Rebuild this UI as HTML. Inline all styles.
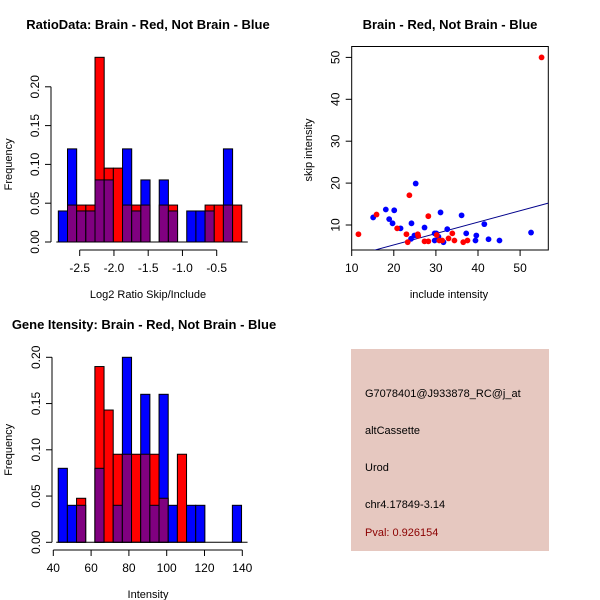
<!DOCTYPE html>
<html><head><meta charset="utf-8"><style>
body{margin:0;background:#fff}
svg{display:block;font-family:"Liberation Sans",Arial,sans-serif}
</style></head><body>
<svg id="s" width="600" height="600" viewBox="0 0 600 600">
<rect width="600" height="600" fill="#fff"/>
<text x="148" y="29" text-anchor="middle" font-weight="bold" font-size="13">RatioData: Brain - Red, Not Brain - Blue</text>
<text x="450" y="29" text-anchor="middle" font-weight="bold" font-size="13">Brain - Red, Not Brain - Blue</text>
<text x="144" y="329" text-anchor="middle" font-weight="bold" font-size="13">Gene Itensity: Brain - Red, Not Brain - Blue</text>
<g id="h1"></g>
<g id="h2"></g>
<g id="sc"></g>
<g>
<rect x="351" y="349" width="198" height="202" fill="#e6c8c0"/>
<g font-size="11">
<text x="365" y="397">G7078401@J933878_RC@j_at</text>
<text x="365" y="434">altCassette</text>
<text x="365" y="471">Urod</text>
<text x="365" y="508">chr4.17849-3.14</text>
<text x="365" y="536" fill="#8b0000">Pval: 0.926154</text>
</g></g>
</svg>
<script>
// Ratio histogram data
const ratioStart = -2.812, ratioWidth = 0.1339;
const ratioBlue = [0.04,0.12,0.04,0.04,0.08,0.08,0,0.12,0.04,0.08,0,0.08,0.04,0,0.04,0.04,0.04,0,0.12,0];
const ratioRed = [0,0.0476,0.0476,0.0476,0.238,0.0952,0.0952,0.0476,0.0476,0.0476,0,0.0476,0.0476,0,0,0,0.0476,0.0476,0.0476,0.0476];
const ratioXTicks = [-2.5,-2.0,-1.5,-1.0,-0.5];
const ratioXLabels = ["-2.5","-2.0","-1.5","-1.0","-0.5"];
const ratioYTicks = [0,0.05,0.10,0.15,0.20];
const ratioYLabels = ["0.00","0.05","0.10","0.15","0.20"];
// Intensity histogram data
const intStart = 42.6, intWidth = 4.85;
const intBlue = [0.08,0.04,0.04,0,0.08,0,0.04,0.2,0,0.16,0.04,0.16,0.04,0,0.04,0.04,0,0,0,0.04];
const intRed = [0,0,0.0476,0,0.19,0.143,0.0952,0.0952,0.0952,0.0952,0.0952,0.0476,0,0.0952,0,0,0,0,0,0];
const intXTicks = [40,60,80,100,120,140];
const intXLabels = ["40","60","80","100","120","140"];
const intYTicks = [0,0.05,0.10,0.15,0.20];
const intYLabels = ["0.00","0.05","0.10","0.15","0.20"];
// Scatter data
const blueX = [15.1,18.1,20.1,18.9,19.7,21.6,24.2,25.2,24.1,24.9,27.3,29.7,30.1,30.6,29.7,31.1,31.8,32.7,36.1,37.2,39.6,39.4,41.5,42.5,45.1,52.6];
const blueY = [11.8,13.7,13.5,11.4,10.4,9.2,10.4,19.9,6.7,7.5,9.4,8.0,8.0,7.2,6.3,13.0,5.9,9.0,12.3,8.0,7.5,6.3,10.2,6.6,6.3,8.2];
const redX = [11.6,15.9,20.8,23.0,23.3,23.7,25.7,25.8,27.3,28.2,28.2,30.2,30.8,31.5,33.0,33.9,34.4,36.5,37.5,55.1];
const redY = [7.8,12.5,9.2,7.8,5.9,17.1,7.8,7.4,6.1,12.1,6.1,7.6,6.3,6.3,6.8,8.0,6.3,5.9,6.3,50.0];
const fitLine = [-0.2, 0.272];
const scXTicks = [10,20,30,40,50];
const scYTicks = [10,20,30,40,50];

const NS="http://www.w3.org/2000/svg";
function mk(parent,tag,attrs){const e=document.createElementNS(NS,tag);for(const k in attrs)e.setAttribute(k,attrs[k]);parent.appendChild(e);return e;}

function hist(g,o){
  const X=v=>o.x0+(v-o.dx0)*o.kx, Y=v=>o.y0-v*o.ky;
  for(let i=0;i<o.blue.length;i++){
    const b=o.blue[i], r=o.red[i], lo=o.start+i*o.w, hi=lo+o.w;
    const hmax=Math.max(b,r), hmin=Math.min(b,r);
    if(hmax>0){
      const rc=mk(g,'rect',{x:X(lo),y:Y(hmax),width:X(hi)-X(lo),height:Y(0)-Y(hmax),fill:b>r?'#0000ff':'#ff0000',stroke:'#000','stroke-width':1});
      
      
    }
    if(hmin>0){
      const pc=mk(g,'rect',{x:X(lo),y:Y(hmin),width:X(hi)-X(lo),height:Y(0)-Y(hmin),fill:'#800080',stroke:'#000','stroke-width':1});
      
      
    }
  }
  const ya=mk(g,'g',{});
  
  
  mk(ya,'line',{x1:o.yax,x2:o.yax,y1:Y(o.yt[0]),y2:Y(o.yt[o.yt.length-1]),stroke:'#000'});
  o.yt.forEach((t,i)=>{
    mk(ya,'line',{x1:o.yax-6,x2:o.yax,y1:Y(t),y2:Y(t),stroke:'#000'});
    const tx=mk(ya,'text',{x:o.yax-12,y:Y(t),'font-size':12,'text-anchor':'middle',transform:`rotate(-90 ${o.yax-12} ${Y(t)})`});
    tx.textContent=o.yl[i];
  });
  const yt=mk(g,'text',{x:12,y:(Y(o.yt[0])+Y(o.yt[o.yt.length-1]))/2,'font-size':11,'text-anchor':'middle',transform:`rotate(-90 12 ${(Y(o.yt[0])+Y(o.yt[o.yt.length-1]))/2})`});
  yt.textContent='Frequency';
  
  
  const xa=mk(g,'g',{});
  
  
  mk(xa,'line',{x1:X(o.xt[0]),x2:X(o.xt[o.xt.length-1]),y1:o.xay,y2:o.xay,stroke:'#000'});
  o.xt.forEach((t,i)=>{
    mk(xa,'line',{x1:X(t),x2:X(t),y1:o.xay,y2:o.xay+6,stroke:'#000'});
    const tx=mk(xa,'text',{x:X(t),y:o.xay+22,'font-size':12,'text-anchor':'middle'});
    tx.textContent=o.xl[i];
  });
  const xt=mk(g,'text',{x:o.xtx,y:o.xay+48,'font-size':11,'text-anchor':'middle'});
  xt.textContent=o.xtitle;
  
  
  mk(g,'line',{x1:X(o.start)-2,x2:X(o.start+o.blue.length*o.w)+6,y1:Y(0),y2:Y(0),stroke:'#000'});
}

hist(document.getElementById('h1'),{blue:ratioBlue,red:ratioRed,start:ratioStart,w:ratioWidth,x0:79.7,dx0:-2.5,kx:68.5,y0:242,ky:776,yax:51,xay:250,xt:ratioXTicks,xl:ratioXLabels,yt:ratioYTicks,yl:ratioYLabels,xtitle:'Log2 Ratio Skip/Include',xtx:148});
hist(document.getElementById('h2'),{blue:intBlue,red:intRed,start:intStart,w:intWidth,x0:53.3,dx0:40,kx:1.89,y0:542.3,ky:925,yax:52,xay:550,xt:intXTicks,xl:intXLabels,yt:intYTicks,yl:intYLabels,xtitle:'Intensity',xtx:148});

(function(){
  const g=document.getElementById('sc');
  const L=351.7,R=548.3,T=46.5,B=250;
  const X=v=>L+(v-10)*4.21, Y=v=>225-(v-10)*4.19;
  const box=mk(g,'rect',{x:L,y:T,width:R-L,height:B-T,fill:'none',stroke:'#000'});
  
  
  const xa=mk(g,'g',{});
  
  
  scXTicks.forEach(t=>{
    mk(xa,'line',{x1:X(t),x2:X(t),y1:B,y2:B+6,stroke:'#000'});
    const tx=mk(xa,'text',{x:X(t),y:B+22,'font-size':12,'text-anchor':'middle'});tx.textContent=t;
  });
  const ya=mk(g,'g',{});
  
  
  scYTicks.forEach(t=>{
    mk(ya,'line',{x1:L-6,x2:L,y1:Y(t),y2:Y(t),stroke:'#000'});
    const tx=mk(ya,'text',{x:L-12,y:Y(t),'font-size':12,'text-anchor':'middle',transform:`rotate(-90 ${L-12} ${Y(t)})`});tx.textContent=t;
  });
  const xt=mk(g,'text',{x:449,y:298,'font-size':11,'text-anchor':'middle'});xt.textContent='include intensity';
  
  
  const yt=mk(g,'text',{x:312,y:150,'font-size':11,'text-anchor':'middle',transform:'rotate(-90 312 150)'});yt.textContent='skip intensity';
  
  
  const cp=mk(g,'clipPath',{id:'scclip'});mk(cp,'rect',{x:L,y:T,width:R-L,height:B-T});
  const x1=10,x2=56.7;
  const ln=mk(g,'line',{x1:X(x1),y1:Y(fitLine[0]+fitLine[1]*x1),x2:X(x2),y2:Y(fitLine[0]+fitLine[1]*x2),stroke:'#00008b','stroke-width':1,'clip-path':'url(#scclip)'});
  
  
  blueX.forEach((x,i)=>{
    const c=mk(g,'circle',{cx:X(x),cy:Y(blueY[i]),r:2.9,fill:'#0000ff'});
    
    
  });
  redX.forEach((x,i)=>{
    const c=mk(g,'circle',{cx:X(x),cy:Y(redY[i]),r:2.9,fill:'#ff0000'});
    
    
  });
})();
</script>
</body></html>
